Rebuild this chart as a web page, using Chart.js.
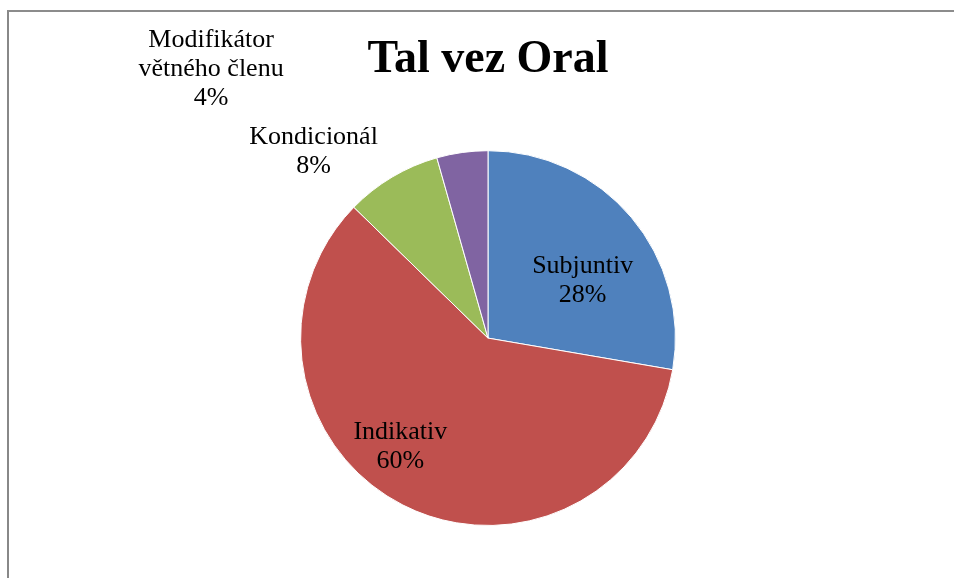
<!DOCTYPE html>
<html>
<head>
<meta charset="utf-8">
<script src="https://cdn.jsdelivr.net/npm/chart.js@4"></script>
<style>
    html, body { margin: 0; padding: 0; background: #fff; overflow: hidden; }
    #wrap { position: relative; width: 954px; height: 578px; }
    #frame { position: absolute; left: 7px; top: 10px; width: 960px; height: 600px;
             border-left: 2px solid #888; border-top: 2px solid #8c8c8c; pointer-events: none; }
</style>
</head>
<body>
<div id="wrap">
    <canvas id="pieChart" width="954" height="578"></canvas>
    <div id="frame"></div>
</div>
<script>
const labels = ['Subjuntiv', 'Indikativ', 'Kondicionál', 'Modifikátor větného členu'];
const labelLines = [['Subjuntiv'], ['Indikativ'], ['Kondicionál'], ['Modifikátor', 'větného členu']];
const values = [27.7, 59.6, 8.3, 4.4];
const colors = ['#4F81BD', '#C0504D', '#9BBB59', '#8064A2'];

const SERIF = "'Liberation Serif', 'Times New Roman', serif";

// Labelpositie per punt: hoek (graden, met de klok mee vanaf boven) en afstand t.o.v. straal
const LABEL_POS = [
    { angle: 58.6, dist: 0.592 },
    { angle: 218.9, dist: 0.745 },
    { angle: 316.9, dist: 1.362 },
    { angle: 314.2, dist: 2.061 }
];

// --- Eigen plugin: naam + percentage, gecentreerd, zoals de Excel-datalabels ---
const pieLabels = {
    id: 'pieLabels',
    afterDatasetsDraw(chart, args, opts) {
        const { ctx } = chart;
        const meta = chart.getDatasetMeta(0);
        const data = chart.data.datasets[0].data;
        const total = data.reduce((a, b) => a + b, 0);
        ctx.save();
        ctx.font = `${opts.size}px ${SERIF}`;
        ctx.fillStyle = '#000';
        ctx.textAlign = 'center';
        ctx.textBaseline = 'middle';
        meta.data.forEach((arc, i) => {
            const pos = opts.positions[i];
            const a = pos.angle * Math.PI / 180;
            const r = arc.outerRadius * pos.dist;
            const cx = arc.x + Math.sin(a) * r;
            const cy = arc.y - Math.cos(a) * r;
            const lines = [...labelLines[i], Math.round(data[i] / total * 100) + '%'];
            const startY = cy - (lines.length - 1) * opts.lineHeight / 2;
            lines.forEach((t, j) => ctx.fillText(t, cx, startY + j * opts.lineHeight));
        });
        ctx.restore();
    }
};

const ctx = document.getElementById('pieChart').getContext('2d');
new Chart(ctx, {
    type: 'pie',
    data: {
        labels,
        datasets: [{
            data: values,
            backgroundColor: colors,
            borderColor: '#ffffff',
            borderWidth: 1
        }]
    },
    options: {
        responsive: false,
        animation: false,
        layout: { padding: { top: 0, left: 300, right: 278, bottom: 52 } },
        plugins: {
            legend: { display: false },
            tooltip: { enabled: false },
            title: {
                display: true, text: 'Tal vez Oral', color: '#000',
                font: { family: SERIF, size: 46, weight: 'bold', lineHeight: 1.2 },
                padding: { top: 33, bottom: 62 }
            },
            pieLabels: { size: 26, lineHeight: 29, positions: LABEL_POS }
        }
    },
    plugins: [pieLabels]
});
</script>
</body>
</html>
